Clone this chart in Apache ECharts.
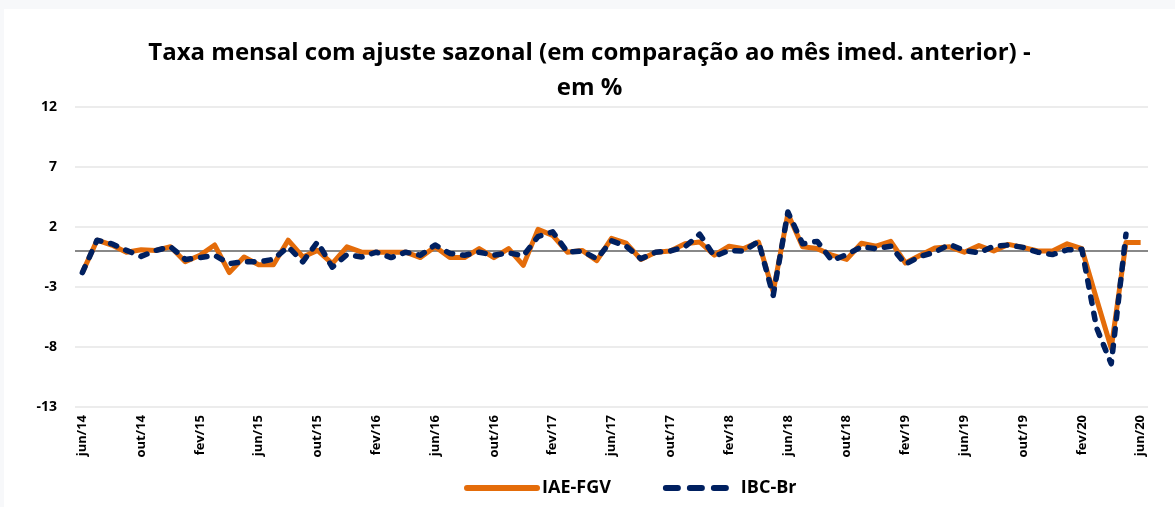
<!DOCTYPE html>
<html>
<head>
<meta charset="utf-8">
<script src="https://cdn.jsdelivr.net/npm/echarts@6/dist/echarts.min.js"></script>
<style>
  html, body { margin: 0; padding: 0; background: #f7f8fa; }
  #main-chart { position: absolute; left: 4px; top: 9px; width: 1171px; height: 498px; background: #fff; }
</style>
</head>
<body>
<div id="main-chart"></div>
<script>
// meses jun/14 .. jun/20
const monthNames = ['jan', 'fev', 'mar', 'abr', 'mai', 'jun', 'jul', 'ago', 'set', 'out', 'nov', 'dez'];
const categories = [];
for (let k = 5; k <= 5 + 72; k++) {
    const yr = 14 + Math.floor(k / 12);
    categories.push(monthNames[k % 12] + '/' + yr);
}

const iaeFgv = [
    -1.8, 0.9, 0.5, -0.1, 0.1, 0.05, 0.35, -0.9, -0.35, 0.5,
    -1.8, -0.5, -1.15, -1.15, 0.9, -0.5, 0.05, -1.05, 0.35, -0.1,
    -0.1, -0.1, -0.1, -0.55, 0.35, -0.55, -0.55, 0.2, -0.55, 0.2,
    -1.2, 1.8, 1.3, -0.1, 0.05, -0.8, 1.05, 0.65, -0.7, -0.1,
    0.0, 0.6, 0.75, -0.35, 0.4, 0.2, 0.75, -3.4, 3.1, 0.35,
    0.2, -0.35, -0.7, 0.65, 0.4, 0.8, -1.0, -0.35, 0.25, 0.35,
    -0.1, 0.45, 0.0, 0.55, 0.3, 0.0, 0.0, 0.6, 0.2, -4.0,
    -8.1, 0.7, 0.7
];

const ibcBr = [
    -1.8, 0.9, 0.6, 0.05, -0.45, 0.05, 0.35, -0.7, -0.55, -0.35,
    -1.05, -0.9, -0.9, -0.7, 0.35, -0.9, 0.75, -1.35, -0.3, -0.5,
    -0.1, -0.55, -0.1, -0.35, 0.5, -0.2, -0.35, -0.1, -0.35, -0.15,
    -0.4, 1.2, 1.6, -0.1, 0.0, -0.65, 0.85, 0.4, -0.65, -0.1,
    0.0, 0.35, 1.4, -0.45, 0.05, 0.0, 0.8, -3.7, 3.25, 0.6,
    0.8, -0.8, -0.3, 0.35, 0.2, 0.4, -1.1, -0.45, -0.1, 0.55,
    0.05, -0.15, 0.4, 0.5, 0.3, -0.1, -0.3, 0.1, 0.15, -6.4,
    -9.4, 1.4, null
];

const yMin = -13;
const yMax = 12;
const yStep = 5;

const chartDom = document.getElementById('main-chart');
const myChart = echarts.init(chartDom);

const fontFam = '"Open Sans", sans-serif';
const orange = '#e46c0a';
const navy = '#002060';

const option = {
    animation: false,
    title: {
        text: 'Taxa mensal com ajuste sazonal (em comparação ao mês imed. anterior) -\nem %',
        left: 'center',
        top: 22,
        textStyle: {
            fontFamily: fontFam,
            fontWeight: 'bold',
            fontSize: 24,
            lineHeight: 35,
            color: '#000'
        }
    },
    legend: {
        bottom: 5,
        left: 455,
        itemWidth: 70,
        itemHeight: 10,
        itemGap: 52,
        itemStyle: { opacity: 0 },
        textStyle: {
            fontFamily: fontFam,
            fontWeight: 'bold',
            fontSize: 18,
            color: '#000'
        },
        data: [
            { name: 'IAE-FGV', lineStyle: { width: 6, color: orange, cap: 'round' } },
            { name: 'IBC-Br', lineStyle: { width: 6, color: navy, type: [12, 12], cap: 'round' } }
        ]
    },
    grid: {
        left: 71,
        right: 27,
        top: 98,
        bottom: 100
    },
    xAxis: {
        type: 'category',
        data: categories,
        boundaryGap: true,
        axisLine: { show: false },
        axisTick: { show: false },
        axisLabel: {
            interval: 3,
            rotate: 90,
            margin: 8,
            fontFamily: fontFam,
            fontWeight: 'bold',
            fontSize: 13,
            color: '#000'
        }
    },
    yAxis: {
        type: 'value',
        min: yMin,
        max: yMax,
        interval: yStep,
        axisLine: { show: false },
        axisTick: { show: false },
        axisLabel: {
            margin: 18,
            fontFamily: fontFam,
            fontWeight: 'bold',
            fontSize: 14,
            color: '#000'
        },
        splitLine: { lineStyle: { color: '#ececec', width: 2 } }
    },
    series: [
        {
            name: 'IAE-FGV',
            type: 'line',
            data: iaeFgv,
            symbol: 'none',
            z: 2,
            lineStyle: { color: orange, width: 5, join: 'round' },
            itemStyle: { color: orange },
            markLine: {
                silent: true,
                symbol: 'none',
                label: { show: false },
                lineStyle: { color: '#888888', type: 'solid', width: 2 },
                data: [{ yAxis: 0 }],
                z: 1
            }
        },
        {
            name: 'IBC-Br',
            type: 'line',
            data: ibcBr,
            symbol: 'none',
            z: 3,
            lineStyle: { color: navy, width: 5.5, type: [6.5, 10], cap: 'round', join: 'round' },
            itemStyle: { color: navy }
        }
    ]
};

myChart.setOption(option);
window.addEventListener('resize', myChart.resize);
</script>
</body>
</html>
